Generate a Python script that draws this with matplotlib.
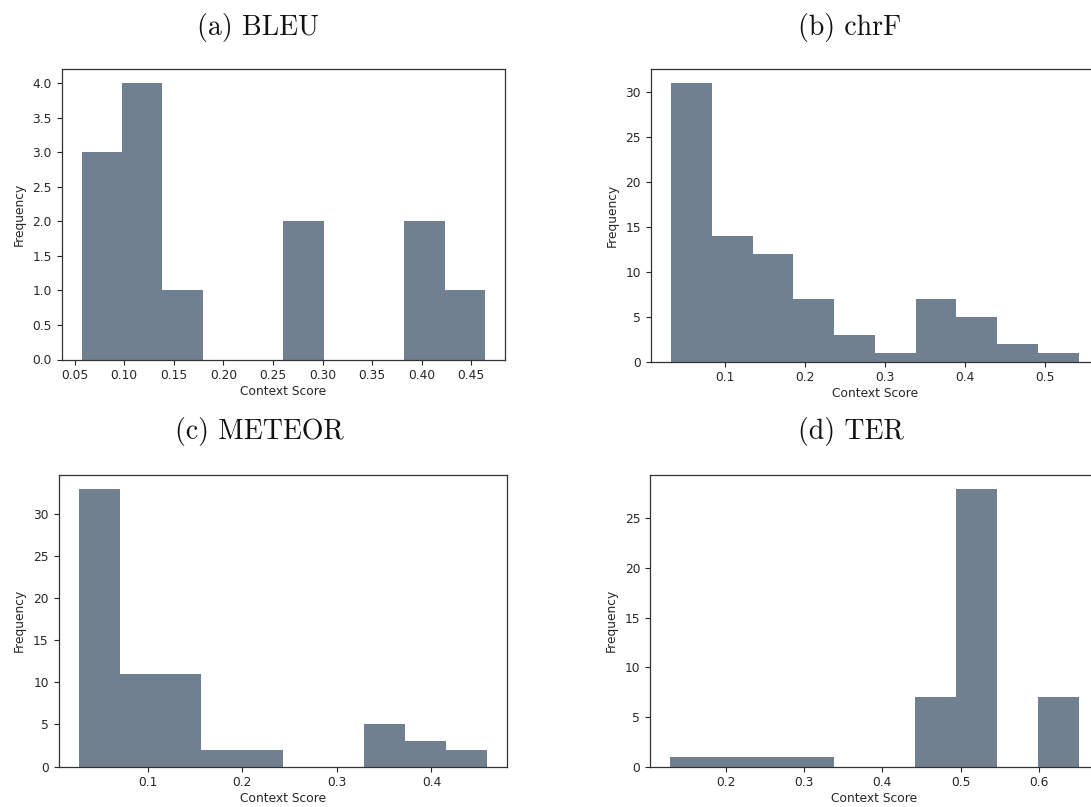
import numpy as np
import matplotlib
matplotlib.use("Agg")
import matplotlib.pyplot as plt
from matplotlib.ticker import MultipleLocator

# Histogram bin ranges and counts (10 equal-width bins per metric)
metrics = ["BLEU", "chrF", "METEOR", "TER"]
panel_tags = ["(a)", "(b)", "(c)", "(d)"]

bleu_range = (0.0573, 0.4636)
bleu_counts = [3, 4, 1, 0, 0, 2, 0, 0, 2, 1]

chrf_range = (0.0321, 0.5425)
chrf_counts = [31, 14, 12, 7, 3, 1, 7, 5, 2, 1]

meteor_range = (0.0273, 0.4583)
meteor_counts = [33, 11, 11, 2, 2, 0, 0, 5, 3, 2]

ter_range = (0.1295, 0.6504)
ter_counts = [1, 1, 1, 1, 0, 0, 7, 28, 0, 7]

ranges = [bleu_range, chrf_range, meteor_range, ter_range]
counts = [bleu_counts, chrf_counts, meteor_counts, ter_counts]
x_steps = [0.05, 0.1, 0.1, 0.1]

W, H = 1091, 807
fig = plt.figure(figsize=(W / 100, H / 100), dpi=100)
fig.patch.set_facecolor("white")

# Axes boxes in pixels: (left, top, right, bottom)
boxes = [
    (61.7, 69.3, 505.0, 359.5),
    (650.7, 69.3, 1099.0, 361.5),
    (58.5, 474.7, 507.0, 766.5),
    (650.0, 474.7, 1099.0, 766.5),
]
# Caption centres in pixels
captions_xy = [(257.5, 28.0), (850.0, 28.0), (259.0, 432.0), (851.0, 432.0)]

tick_color = "#262626"

for i in range(4):
    l, t, r, b = boxes[i]
    ax = fig.add_axes([l / W, 1 - b / H, (r - l) / W, (b - t) / H])
    lo, hi = ranges[i]
    edges = np.linspace(lo, hi, len(counts[i]) + 1)
    centers = (edges[:-1] + edges[1:]) / 2
    ax.hist(centers, bins=edges, weights=counts[i], color="slategray",
            linewidth=0)
    ax.xaxis.set_major_locator(MultipleLocator(x_steps[i]))
    ax.tick_params(labelsize=8.8, colors=tick_color, labelcolor=tick_color)
    ax.set_xlabel("Context Score", fontsize=8.8, color=tick_color, labelpad=2)
    ax.set_ylabel("Frequency", fontsize=8.8, color=tick_color, labelpad=5)
    for s in ax.spines.values():
        s.set_color("#333333")
        s.set_linewidth(0.9)

    cx, cy = captions_xy[i]
    fig.text(cx / W, 1 - cy / H, f"{panel_tags[i]} {metrics[i]}",
             fontfamily="cmr10", fontsize=20, ha="center", va="center",
             color="#111111")

fig.savefig("out.png", dpi=100)
